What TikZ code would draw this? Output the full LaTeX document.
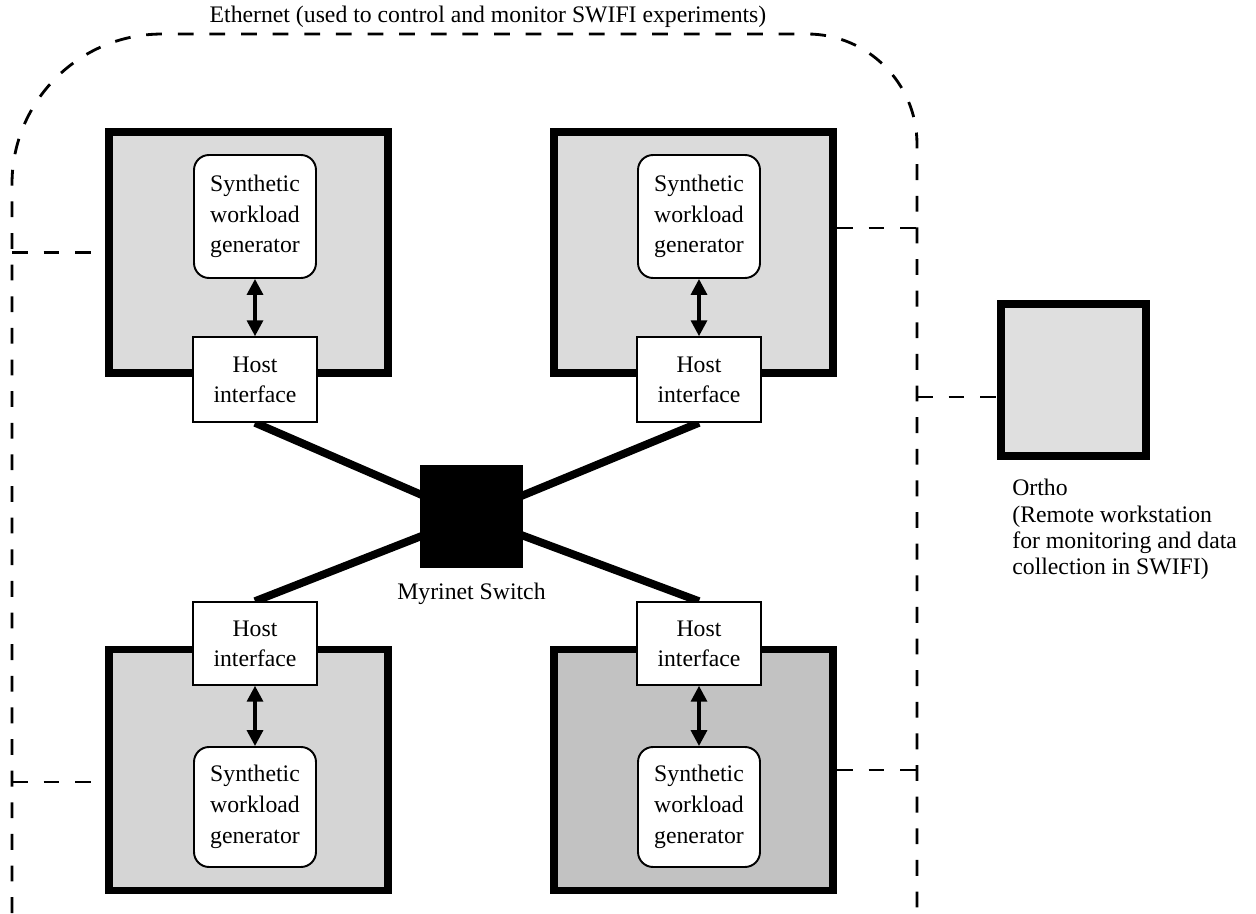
\documentclass[tikz,border=0pt]{standalone}
\usepackage{fontspec}
\setmainfont{Liberation Serif}
\usetikzlibrary{arrows.meta,positioning,backgrounds}

\tikzset{
  machine/.style={draw, line width=4.5pt, minimum width=5.58cm, minimum height=4.82cm, inner sep=0pt},
  synbox/.style={draw, fill=white, line width=1.1pt, rounded corners=0.3cm, minimum width=2.44cm, minimum height=2.46cm, align=center, inner sep=0pt, font=\fontsize{13.5}{17.5}\selectfont},
  hostbox/.style={draw, fill=white, line width=0.9pt, minimum width=2.48cm, minimum height=1.7cm, align=center, inner sep=0pt, font=\fontsize{13.5}{17}\selectfont},
  ether/.style={line width=1.6pt, dash pattern=on 9pt off 9pt},
  myrilink/.style={line width=4.5pt},
  dblarrow/.style={line width=2pt, {Triangle[length=9pt,width=9pt]}-{Triangle[length=9pt,width=9pt]}},
}

\begin{document}
\begin{tikzpicture}[x=0.02cm,y=0.02cm]
\useasboundingbox (0,0) rectangle (1256,913);

% ethernet
\coordinate (busL) at (12,0);
\coordinate (busR) at (917,0);
\draw[ether] (busL) -- (12,729) arc[start angle=180,end angle=90,radius=3cm] -- (807,879) arc[start angle=90,end angle=0,radius=2.2cm] -- (busR);
\node[font=\fontsize{13.5}{16}\selectfont] (ethlabel) at (488,896) {Ethernet (used to control and monitor SWIFI experiments)};

% nodes of the cluster
\foreach \i/\x/\y/\g in {1/248.5/660.5/28,2/693.5/660.5/28,3/248.5/143/33,4/693.5/143/48} {
\node[machine,fill=gray!\g] (m\i) at (\x,\y) {};
}

\node[synbox] (syn1) at (255,696.5) {Synthetic\\workload\\generator};
\node[synbox] (syn2) at (699,696.5) {Synthetic\\workload\\generator};
\node[synbox,minimum height=2.4cm] (syn3) at (255,106) {Synthetic\\workload\\generator};
\node[synbox,minimum height=2.4cm] (syn4) at (699,106) {Synthetic\\workload\\generator};

\node[hostbox] (host1) at (255,533.5) {Host\\interface};
\node[hostbox] (host2) at (699,533.5) {Host\\interface};
\node[hostbox,minimum height=1.66cm] (host3) at (255,269.5) {Host\\interface};
\node[hostbox,minimum height=1.66cm] (host4) at (699,269.5) {Host\\interface};

\foreach \i/\a/\b in {1/south/north,2/south/north,3/north/south,4/north/south} {
\draw[dblarrow] (syn\i.\a) -- (host\i.\b);
}

% switch
\node[fill=black, minimum size=2.06cm, inner sep=0pt] (sw) at (471.5,396.5) {};
\node[below=5pt of sw, font=\fontsize{13.5}{16}\selectfont] (swlabel) {Myrinet Switch};
\begin{scope}[on background layer]
\foreach \i/\a in {1/south,2/south,3/north,4/north} {
\draw[myrilink] (host\i.\a) -- (sw.center);
}
\end{scope}

% ortho
\node[machine, fill=gray!25, minimum width=2.9cm, minimum height=3.04cm] (ortho) at (1073.5,533) {};
\node[anchor=north west, align=left, inner sep=0pt, font=\fontsize{13.5}{15}\selectfont] (orthotxt) at (1012,434) {Ortho\\(Remote workstation\\for monitoring and data\\collection in SWIFI)};

% taps to the ethernet
\coordinate (tap2) at (917,685);
\coordinate (tap3) at (12,131);
\coordinate (tap5) at (917,516);
\draw[ether] (m1.west -| busL) -- (m1.west);
\draw[ether] (m2.east |- tap2) -- (tap2);
\draw[ether] (tap3) -- (m3.west |- tap3);
\draw[ether] (m4.east) -- (m4.east -| busR);
\draw[ether] (tap5) -- (ortho.west |- tap5);
\end{tikzpicture}
\end{document}
